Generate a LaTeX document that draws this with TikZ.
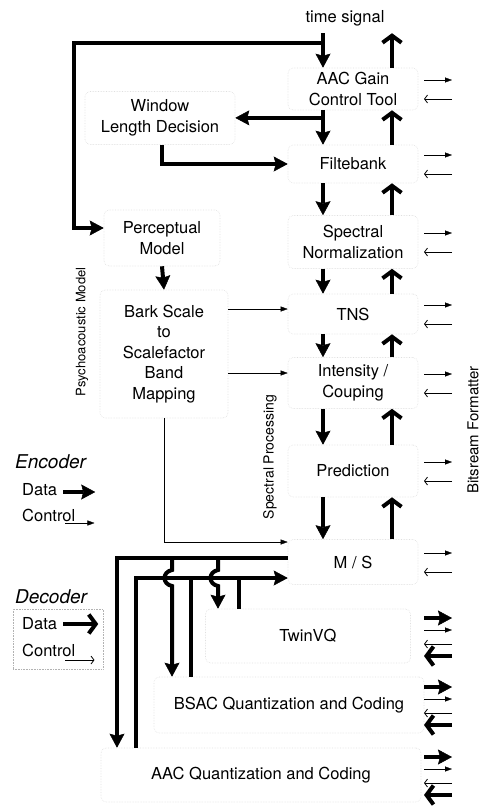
\documentclass[tikz,border=0pt]{standalone}
\usepackage{fontspec}
\setmainfont{TeX Gyre Heros}
\usetikzlibrary{arrows.meta,positioning,calc}
\tikzset{
  >=Stealth,
  blk/.style={draw=gray!25, densely dotted, line width=0.6pt, rounded corners=5pt, align=center, inner sep=0pt, font=\fontsize{16.5}{20.5}\selectfont},
  lbl/.style={inner sep=0pt, font=\fontsize{16.5}{20.5}\selectfont},
  side/.style={inner sep=0pt, rotate=90},
  data/.style={line width=4pt, -{Stealth[length=14pt,width=15pt,inset=2pt,line width=0.5pt]}},
  databack/.style={line width=4pt, -{Straight Barb[length=7pt,width=19pt]}},
  ctl/.style={line width=0.8pt, -{Triangle[length=7pt,width=5pt,line width=0.3pt]}},
  ctlback/.style={line width=0.8pt, -{Straight Barb[length=3pt,width=8pt]}},
  bus/.style={line width=4pt}
}
\begin{document}
\begin{tikzpicture}[x=1pt, y=-1pt]
\useasboundingbox (0,0) rectangle (484,806);

% columns of the main data paths
\coordinate (dnx) at (323,0);
\coordinate (upx) at (392,0);
\coordinate (outx) at (424,0);
\coordinate (fmtx) at (452,0);
\coordinate (fbx) at (74,0);

% --- Spectral processing chain ---
\node[lbl, minimum height=30pt] (ts) at (345,18) {time signal};
\node[blk, minimum width=130pt, minimum height=42pt] (gain) at (353,89) {AAC Gain\\Control Tool};
\node[blk, minimum width=130pt, minimum height=38pt] (filt) at (353,164) {Filtebank};
\node[blk, minimum width=130pt, minimum height=53pt] (norm) at (353,242) {Spectral\\Normalization};
\node[blk, minimum width=130pt, minimum height=40pt] (tns) at (353,314) {TNS};
\node[blk, minimum width=130pt, minimum height=51pt] (inten) at (353,383) {Intensity /\\Couping};
\node[blk, minimum width=130pt, minimum height=52pt] (pred) at (353,471) {Prediction};
\node[blk, minimum width=130pt, minimum height=45pt] (ms) at (353,562) {M / S};

% down and up paths
\draw[data] (ts.south -| dnx) -- (gain.north -| dnx);
\draw[databack] (gain.north -| upx) -- (ts.south -| upx);
\foreach \a/\b in {gain/filt, filt/norm, norm/tns, tns/inten, inten/pred, pred/ms} {
    \draw[data] (\a.south -| dnx) -- (\b.north -| dnx);
    \draw[databack] (\b.north -| upx) -- (\a.south -| upx);
}

% control to and from the formatter
\foreach \b in {gain, filt, norm, tns, inten, pred, ms} {
    \draw[ctl] ($(\b.center -| outx)+(0,-9)$) -- ($(\b.center -| fmtx)+(0,-9)$);
    \draw[ctlback] ($(\b.center -| fmtx)+(0,10)$) -- ($(\b.center -| outx)+(0,10)$);
}

% --- Psychoacoustic model ---
\node[blk, minimum width=150pt, minimum height=53pt] (win) at (160,118) {Window\\Length Decision};
\node[blk, minimum width=116pt, minimum height=56pt] (perc) at (162,238) {Perceptual\\Model};
\node[blk, minimum width=128pt, minimum height=128pt] (bark) at (164,354) {Bark Scale\\to\\Scalefactor\\Band\\Mapping};

\coordinate (tap) at ($(ts.south -| dnx)+(0,10)$);
\coordinate (tap2) at ($(gain.south -| dnx)!0.22!(filt.north -| dnx)$);
\draw[data] (tap) -- (tap -| fbx) |- ([yshift=10pt]perc.west);
\draw[data] (tap2) -- (tap2 -| win.east);
\draw[data] ([xshift=2pt]win.south) |- (filt.west);
\draw[data] (perc.south) -- (bark.north);
\draw[ctl] ($(tns.west -| bark.east)+(0,-5)$) -- ($(tns.west)+(0,-5)$);
\draw[ctl] ($(inten.west -| bark.east)+(0,-10)$) -- ($(inten.west)+(0,-10)$);
\draw[ctl] (bark.south) |- ([yshift=20pt]ms.west);

% --- Quantization and coding ---
\node[blk, minimum width=205pt, minimum height=54pt] (twin) at (308,636) {TwinVQ};
\node[blk, minimum width=270pt, minimum height=56pt] (bsac) at (289,705) {BSAC Quantization and Coding};
\node[blk, minimum width=320pt, minimum height=54pt] (aac) at (261,775) {AAC Quantization and Coding};

\coordinate (bx1) at (117,0);
\coordinate (bx2) at (136,0);
\coordinate (hx1) at (172,0);
\coordinate (hx1b) at (191,0);
\coordinate (hx2) at (218,0);
\coordinate (hx2b) at (239,0);
\coordinate (j1) at ($(ms.west -| hx1)+(0,-4)$);
\coordinate (j2) at ($(ms.west -| hx2)+(0,-4)$);

\draw[bus, data] ([yshift=4pt]ms.west) -| (aac.north -| bx1);
\draw[bus, data] (aac.north -| bx2) |- ([yshift=-16pt]ms.west);
\foreach \j/\b in {j1/bsac, j2/twin} {
    \draw[data] (\j) -- ($(\j)+(0,12)$) .. controls ($(\j)+(-10,14)$) and ($(\j)+(-10,26)$) .. ($(\j)+(0,28)$) -- (\b.north -| \j);
}
\draw[bus] (bsac.north -| hx1b) -- ($(ms.west -| hx1b)+(0,16)$);
\draw[bus] (twin.north -| hx2b) -- ($(ms.west -| hx2b)+(0,16)$);

\foreach \b in {twin, bsac, aac} {
    \draw[data] ($(\b.center -| outx)+(0,-18)$) -- ($(\b.center -| fmtx)+(0,-18)$);
    \draw[ctl] ($(\b.center -| outx)+(0,-6)$) -- ($(\b.center -| fmtx)+(0,-6)$);
    \draw[ctlback] ($(\b.center -| fmtx)+(0,8)$) -- ($(\b.center -| outx)+(0,8)$);
    \draw[databack] ($(\b.center -| fmtx)+(0,20)$) -- ($(\b.center -| outx)+(0,20)$);
}

% --- Side labels ---
\node[side, font=\fontsize{13}{15}\selectfont] (psy) at (82,332) {Psychoacoustic Model};
\node[side, font=\fontsize{14}{16}\selectfont] (spec) at (270,457) {Spectral Processing};
\node[side, font=\fontsize{15}{18}\selectfont] (fmt) at (473,430) {Bitsream Formatter};

% --- Legend ---
\node[lbl, anchor=west, font=\itshape\fontsize{19}{22}\selectfont] (enc) at (15,462) {Encoder};
\node[lbl, anchor=west] (encData) at (22,490) {Data};
\node[lbl, anchor=west] (encCtl) at (22,515) {Control};
\draw[data] ([xshift=6pt,yshift=-2pt]encData.east) -- ([xshift=38pt,yshift=-2pt]encData.east);
\draw[ctl] ([xshift=-10pt,yshift=-8pt]encCtl.east) -- ([xshift=19pt,yshift=-8pt]encCtl.east);

\node[draw=gray!60, densely dotted, line width=0.6pt, minimum width=90pt, minimum height=60pt] (decBox) at (58,639) {};
\node[lbl, anchor=west, font=\itshape\fontsize{19}{22}\selectfont] (dec) at (15,597) {Decoder};
\node[lbl, anchor=west] (decData) at (22,624) {Data};
\node[lbl, anchor=west] (decCtl) at (22,650) {Control};
\draw[databack] ([xshift=6pt]decData.east) -- ([xshift=41pt]decData.east);
\draw[ctlback] ([xshift=-10pt,yshift=-10pt]decCtl.east) -- ([xshift=19pt,yshift=-10pt]decCtl.east);

\end{tikzpicture}
\end{document}
